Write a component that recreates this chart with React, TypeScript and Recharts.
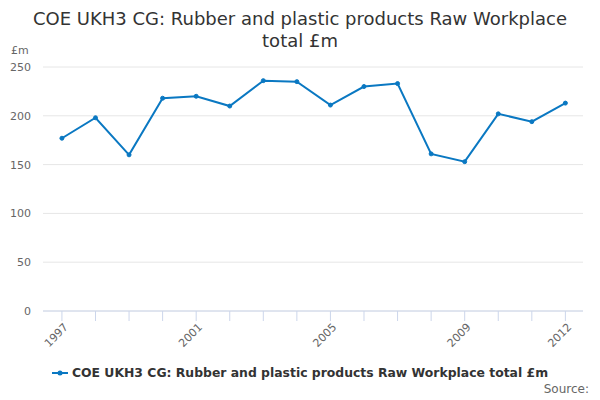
import React from "react";
import { LineChart, Line, XAxis, YAxis, CartesianGrid } from "recharts";

const years = [1997, 1998, 1999, 2000, 2001, 2002, 2003, 2004, 2005, 2006, 2007, 2008, 2009, 2010, 2011, 2012];
const values = [177, 198, 160, 218, 220, 210, 236, 235, 211, 230, 233, 161, 153, 202, 194, 213];
const labelledYears = [1997, 2001, 2005, 2009, 2012];
const yTicks = [0, 50, 100, 150, 200, 250];

const SERIES = "COE UKH3 CG: Rubber and plastic products Raw Workplace total £m";
const LINE_COLOR = "#0a78c2";
const FONT = "'DejaVu Sans', sans-serif";

const data = years.map((year, i) => ({ year, value: values[i] }));

function YearTick(props: any) {
  const { x, y, payload } = props;
  if (!labelledYears.includes(payload.value)) return null;
  return (
    <g transform={`translate(${x + 4},${y + 2})`}>
      <text
        transform="rotate(-45)"
        textAnchor="end"
        fontSize={11}
        fill="#666"
        fontFamily={FONT}
        dy={4}
      >
        {payload.value}
      </text>
    </g>
  );
}

export default function App() {
  return (
    <div style={{ position: "absolute", left: 0, top: 0, width: 600, height: 400, background: "#fff", fontFamily: FONT }}>
      <div
        style={{
          position: "absolute",
          top: 8,
          left: 15,
          width: 570,
          textAlign: "center",
          fontSize: 18,
          lineHeight: "22px",
          color: "#333",
        }}
      >
        {SERIES}
      </div>
      <div style={{ position: "absolute", left: 11, top: 44, fontSize: 11, color: "#666" }}>£m</div>
      <div style={{ position: "absolute", right: 11, top: 382, fontSize: 12, color: "#666" }}>Source:</div>
      <div
        style={{
          position: "absolute",
          top: 365,
          left: 0,
          width: 600,
          display: "flex",
          justifyContent: "center",
          alignItems: "center",
          fontSize: 12.4,
          fontWeight: "bold",
          color: "#333",
        }}
      >
        <svg width={16} height={10} style={{ marginRight: 4 }}>
          <line x1={0} y1={5} x2={16} y2={5} stroke={LINE_COLOR} strokeWidth={2} />
          <circle cx={8} cy={5} r={2.5} fill={LINE_COLOR} />
        </svg>
        {SERIES}
      </div>
      <div style={{ position: "absolute", left: 0, top: 0 }}>
        <LineChart width={600} height={400} data={data} margin={{ top: 67, right: 17, bottom: 59, left: 0 }}>
          <CartesianGrid vertical={false} stroke="#e6e6e6" />
          <XAxis
            dataKey="year"
            type="number"
            domain={[1996.436, 2012.525]}
            ticks={years}
            interval={0}
            tick={<YearTick />}
            tickLine={{ stroke: "#ccd6eb" }}
            tickSize={10}
            height={30}
            axisLine={{ stroke: "#ccd6eb" }}
            allowDataOverflow
          />
          <YAxis
            width={43}
            domain={[0, 250]}
            ticks={yTicks}
            axisLine={false}
            tickLine={false}
            tickSize={0}
            tickMargin={12}
            tick={{ fontSize: 11, fill: "#666", fontFamily: FONT }}
          />
          <Line
            type="linear"
            dataKey="value"
            stroke={LINE_COLOR}
            strokeWidth={2}
            dot={{ r: 2, fill: LINE_COLOR, stroke: LINE_COLOR, strokeWidth: 1 }}
            activeDot={false}
            isAnimationActive={false}
          />
        </LineChart>
      </div>
    </div>
  );
}
